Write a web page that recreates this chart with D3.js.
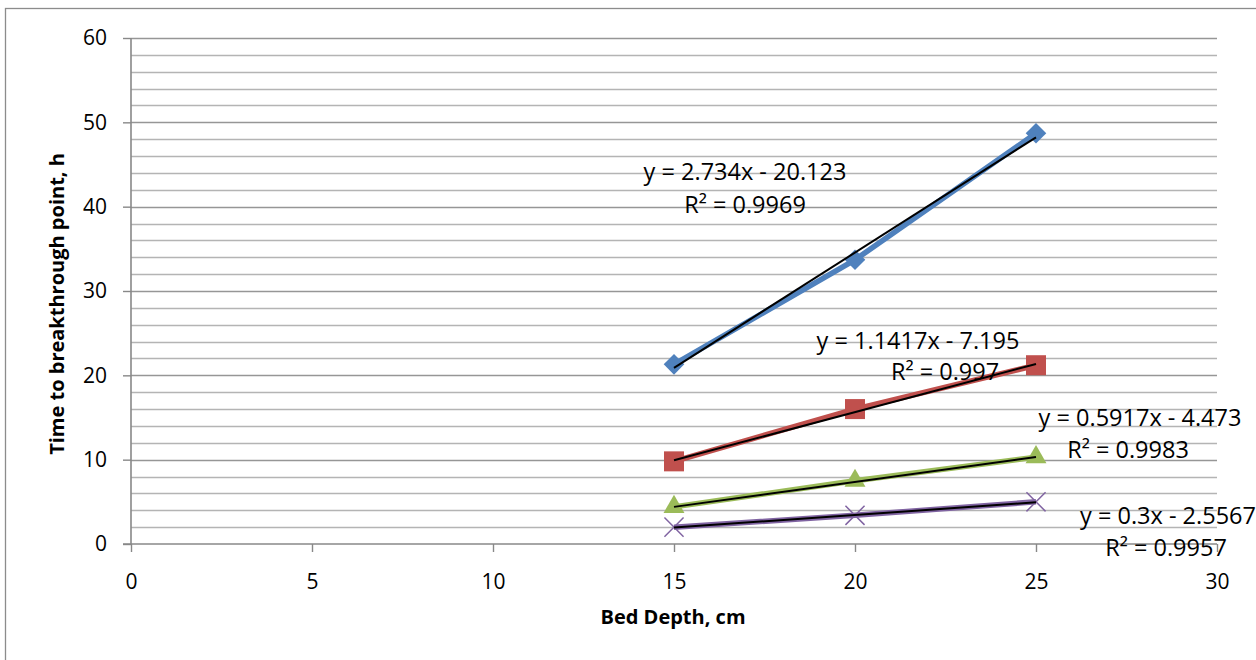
<!DOCTYPE html>
<html lang="en">
<head>
  <meta charset="utf8">
  <script type="text/javascript" src="https://cdn.jsdelivr.net/npm/d3@7"></script>
  <title>Breakthrough time vs bed depth</title>
  <style>
    body { margin: 0; background: #fff; }
    text { font-family: "Open Sans", "Noto Sans", sans-serif; fill: #000; }
  </style>
</head>
<body>
  <div id="chart"></div>
<script type="text/javascript">

  // data
  var depths = [15, 20, 25];
  var seriesNames = ["A", "B", "C", "D"];
  var seriesValues = [
    [21.3, 33.7, 48.7],
    [9.8, 16.0, 21.2],
    [4.4, 7.5, 10.3],
    [2.0, 3.4, 5.0]
  ];
  var trendSlopes = [2.734, 1.1417, 0.5917, 0.3];
  var trendIntercepts = [-20.123, -7.195, -4.473, -2.5567];
  var eqLabels = ["y = 2.734x - 20.123", "y = 1.1417x - 7.195", "y = 0.5917x - 4.473", "y = 0.3x - 2.5567"];
  var r2Labels = ["R² = 0.9969", "R² = 0.997", "R² = 0.9983", "R² = 0.9957"];
  var xTicks = [0, 5, 10, 15, 20, 25, 30];
  var yTicks = [0, 10, 20, 30, 40, 50, 60];

  var colors = ["#4F81BD", "#C0504D", "#9BBB59", "#8064A2"];
  var markers = ["diamond", "square", "triangle", "cross"];
  // where the equation labels sit (pixel anchors, centred)
  var labelPos = [[745, 172, 745, 205], [918, 341, 945, 372], [1140, 418, 1128, 450], [1168, 516, 1166, 548]];

  var width = 1256, height = 660;
  var svg = d3.select("#chart").append("svg")
    .attr("width", width).attr("height", height);

  // chart border
  svg.append("rect").attr("x", 5.5).attr("y", 8.5)
    .attr("width", width + 20).attr("height", height + 20)
    .attr("fill", "none").attr("stroke", "#8c8c8c").attr("stroke-width", 1.3);

  var x = d3.scaleLinear().domain([0, 30]).range([131, 1217]);
  var y = d3.scaleLinear().domain([0, 60]).range([544, 38]);

  // gridlines every 2
  var grid = svg.append("g");
  grid.selectAll("line").data(d3.range(2, 61, 2)).enter().append("line")
    .attr("x1", x(0)).attr("x2", x(30))
    .attr("y1", function (d) { return Math.round(y(d)) + 0.5; })
    .attr("y2", function (d) { return Math.round(y(d)) + 0.5; })
    .attr("stroke", function (d) { return d % 10 == 0 ? "#969696" : "#b4b4b4"; })
    .attr("stroke-width", 1.4);

  // axes
  var yAxis = d3.axisLeft(y).tickValues(yTicks).tickSize(8).tickPadding(16);
  var xAxis = d3.axisBottom(x).tickValues(xTicks).tickSize(8).tickPadding(22);
  var gy = svg.append("g").attr("transform", "translate(" + x(0) + ",0)").call(yAxis);
  var gx = svg.append("g").attr("transform", "translate(0," + y(0) + ")").call(xAxis);
  [gy, gx].forEach(function (g) {
    g.selectAll("path.domain").attr("stroke", "#888").attr("stroke-width", 1.6);
    g.selectAll(".tick line").attr("stroke", "#888").attr("stroke-width", 1.4);
    g.selectAll(".tick text").style("font-size", "21px")
      .style("font-family", "'Open Sans', sans-serif").attr("fill", "#000");
  });
  gy.select("path.domain").attr("d", "M0," + y(60) + "V" + y(0));
  gx.select("path.domain").attr("d", "M" + (x(0) - 8) + ",0H" + x(30));

  // axis titles
  svg.append("text").attr("x", 673).attr("y", 624).attr("text-anchor", "middle")
    .style("font-size", "20px").style("font-weight", "bold").text("Bed Depth, cm");
  svg.append("text").attr("transform", "translate(64,304) rotate(-90)").attr("text-anchor", "middle")
    .style("font-size", "20px").style("font-weight", "bold").text("Time to breakthrough point, h");

  var line = d3.line().x(function (d) { return x(d[0]); }).y(function (d) { return y(d[1]); });

  seriesValues.forEach(function (vals, i) {
    var pts = depths.map(function (d, j) { return [d, vals[j]]; });
    var g = svg.append("g");
    g.append("path").attr("d", line(pts)).attr("fill", "none")
      .attr("stroke", colors[i]).attr("stroke-width", 5.5).attr("stroke-linejoin", "round");

    var sym;
    if (markers[i] == "diamond") sym = d3.symbol(d3.symbolDiamond2, 270);
    else if (markers[i] == "square") sym = d3.symbol(d3.symbolSquare, 400);
    else if (markers[i] == "triangle") sym = d3.symbol(d3.symbolTriangle, 190);
    else sym = d3.symbol(d3.symbolTimes, 240);

    g.selectAll("path.m").data(pts).enter().append("path").attr("class", "m")
      .attr("d", sym)
      .attr("transform", function (d) { return "translate(" + x(d[0]) + "," + y(d[1]) + ")"; })
      .attr("fill", markers[i] == "cross" ? "none" : colors[i])
      .attr("stroke", markers[i] == "cross" ? colors[i] : "none")
      .attr("stroke-width", 1.5);

    // linear trendline
    var x0 = depths[0], x1 = depths[depths.length - 1];
    g.append("line")
      .attr("x1", x(x0)).attr("y1", y(trendSlopes[i] * x0 + trendIntercepts[i]))
      .attr("x2", x(x1)).attr("y2", y(trendSlopes[i] * x1 + trendIntercepts[i]))
      .attr("stroke", "#000").attr("stroke-width", 2);
  });

  // equation labels
  var lab = svg.append("g").style("font-size", "23.5px").attr("text-anchor", "middle");
  eqLabels.forEach(function (t, i) {
    var p = labelPos[i];
    lab.append("text").attr("x", p[0]).attr("y", p[1] + 8).text(t);
    lab.append("text").attr("x", p[2]).attr("y", p[3] + 8).text(r2Labels[i]);
  });

</script>
</body>
</html>
